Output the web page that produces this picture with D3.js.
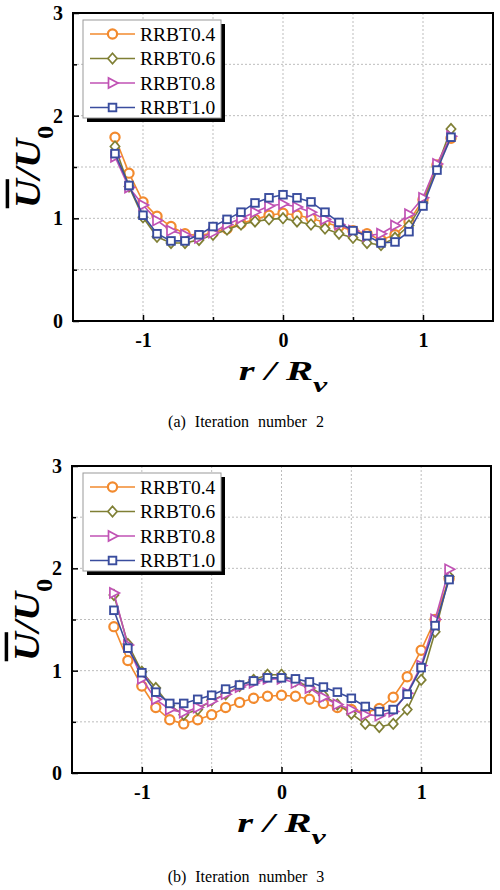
<!DOCTYPE html>
<html>
<head>
<meta charset="utf-8">
<script src="https://cdn.jsdelivr.net/npm/d3@7"></script>
<style>
  body { margin: 0; background: #fff; }
  svg { display: block; }
</style>
</head>
<body>
<div id="graph"></div>
<script>
// r / Rv sample positions
const radius = [-1.2, -1.1, -1.0, -0.9, -0.8, -0.7, -0.6, -0.5, -0.4, -0.3, -0.2, -0.1, 0,
                0.1, 0.2, 0.3, 0.4, 0.5, 0.6, 0.7, 0.8, 0.9, 1.0, 1.1, 1.2];

const seriesNames = ['RRBT0.4', 'RRBT0.6', 'RRBT0.8', 'RRBT1.0'];

// (a) iteration number 2
const iter2_04 = [1.79, 1.44, 1.16, 1.02, 0.92, 0.85, 0.83, 0.86, 0.90, 0.95, 0.99, 1.03, 1.05,
                  1.03, 1.00, 0.96, 0.92, 0.88, 0.85, 0.79, 0.84, 0.97, 1.18, 1.52, 1.78];
const iter2_06 = [1.70, 1.31, 1.01, 0.82, 0.76, 0.76, 0.79, 0.84, 0.89, 0.94, 0.97, 0.99, 1.00,
                  0.97, 0.94, 0.90, 0.85, 0.81, 0.76, 0.74, 0.81, 0.93, 1.15, 1.50, 1.87];
const iter2_08 = [1.60, 1.30, 1.13, 0.98, 0.88, 0.84, 0.81, 0.86, 0.94, 1.00, 1.06, 1.12, 1.14,
                  1.11, 1.06, 0.99, 0.94, 0.88, 0.83, 0.85, 0.93, 1.04, 1.20, 1.53, 1.80];
const iter2_10 = [1.63, 1.32, 1.03, 0.85, 0.78, 0.78, 0.84, 0.92, 0.99, 1.06, 1.15, 1.20, 1.23,
                  1.20, 1.16, 1.06, 0.96, 0.88, 0.83, 0.76, 0.77, 0.87, 1.12, 1.47, 1.79];

// (b) iteration number 3
const iter3_04 = [1.43, 1.10, 0.85, 0.64, 0.52, 0.48, 0.52, 0.57, 0.64, 0.69, 0.73, 0.75, 0.76,
                  0.75, 0.72, 0.68, 0.64, 0.62, 0.59, 0.63, 0.74, 0.94, 1.20, 1.50, 1.90];
const iter3_06 = [1.74, 1.26, 0.99, 0.83, 0.66, 0.57, 0.62, 0.71, 0.77, 0.85, 0.91, 0.96, 0.96,
                  0.90, 0.84, 0.76, 0.67, 0.58, 0.48, 0.45, 0.48, 0.62, 0.91, 1.38, 1.92];
const iter3_08 = [1.76, 1.25, 0.92, 0.72, 0.62, 0.59, 0.64, 0.70, 0.77, 0.84, 0.88, 0.92, 0.92,
                  0.88, 0.83, 0.74, 0.67, 0.62, 0.57, 0.56, 0.60, 0.78, 1.05, 1.50, 1.99];
const iter3_10 = [1.59, 1.22, 0.98, 0.79, 0.68, 0.68, 0.72, 0.76, 0.82, 0.86, 0.90, 0.93, 0.93,
                  0.92, 0.89, 0.84, 0.79, 0.73, 0.65, 0.60, 0.62, 0.77, 1.03, 1.44, 1.89];

const xTicks = [-1, 0, 1];
const yTicks = [0, 1, 2, 3];

const colors = ['#f28a2e', '#7f7f34', '#c052b4', '#3a4d9e'];
const shapes = ['circle', 'diamond', 'triangle', 'square'];

const serif = "'Liberation Serif', 'Times New Roman', serif";

let svg = d3.select('#graph')
    .append('svg')
    .attr('width', 500)
    .attr('height', 890);

function marker(g, shape, color, cx, cy) {
    if (shape === 'circle') {
        g.append('circle').attr('cx', cx).attr('cy', cy).attr('r', 4.6)
            .style('fill', '#fff').style('stroke', color).style('stroke-width', 2.2);
    } else if (shape === 'diamond') {
        g.append('path')
            .attr('d', `M${cx},${cy - 5.2}L${cx + 4.6},${cy}L${cx},${cy + 5.2}L${cx - 4.6},${cy}Z`)
            .style('fill', '#fff').style('stroke', color).style('stroke-width', 1.7);
    } else if (shape === 'triangle') {
        g.append('path')
            .attr('d', `M${cx + 5.5},${cy}L${cx - 4},${cy - 5}L${cx - 4},${cy + 5}Z`)
            .style('fill', '#fff').style('stroke', color).style('stroke-width', 1.7);
    } else {
        g.append('rect').attr('x', cx - 3.8).attr('y', cy - 3.8).attr('width', 7.6).attr('height', 7.6)
            .style('fill', '#fff').style('stroke', color).style('stroke-width', 1.9);
    }
}

function styleAxis(a) {
    a.select('.domain').remove();
    a.selectAll('line').style('stroke', '#000').style('stroke-width', 1.5);
    a.selectAll('text')
        .style('font-family', serif).style('font-weight', 'bold')
        .style('font-size', '20px').style('fill', '#000');
}

function drawPanel(left, top, width, height, series, legendPos, caption, captionY, labelY) {
    let g = svg.append('g').attr('transform', 'translate(' + left + ',' + top + ')');

    let x = d3.scaleLinear().domain([-1.5, 1.5]).range([0, width]);
    let y = d3.scaleLinear().domain([0, 3]).range([height, 0]);

    // dotted grid
    g.append('g').selectAll('line.gx')
        .data([-1, -0.5, 0, 0.5, 1])
        .enter().append('line')
        .attr('x1', d => x(d)).attr('x2', d => x(d))
        .attr('y1', 0).attr('y2', height)
        .style('stroke', '#b5b5b5').style('stroke-width', 0.9).style('stroke-dasharray', '2,2');
    g.append('g').selectAll('line.gy')
        .data([0.5, 1, 1.5, 2, 2.5])
        .enter().append('line')
        .attr('x1', 0).attr('x2', width)
        .attr('y1', d => y(d)).attr('y2', d => y(d))
        .style('stroke', '#b5b5b5').style('stroke-width', 0.9).style('stroke-dasharray', '2,2');

    // series
    series.forEach((vals, i) => {
        let pts = radius.map((r, k) => [r, vals[k]]);
        let line = d3.line().x(d => x(d[0])).y(d => y(d[1]));
        let sg = g.append('g');
        sg.append('path').datum(pts).attr('d', line)
            .style('fill', 'none').style('stroke', colors[i]).style('stroke-width', 1.6);
        pts.forEach(p => marker(sg, shapes[i], colors[i], x(p[0]), y(p[1])));
    });

    // axes, ticks inward
    let fmt = d => d < 0 ? '-' + Math.abs(d) : String(d);
    let xMajor = d3.axisBottom(x).tickValues(xTicks).tickSize(-6).tickPadding(12).tickFormat(fmt);
    let xMinor = d3.axisBottom(x).tickValues([-0.5, 0.5]).tickSize(-4).tickFormat('');
    let yMajor = d3.axisLeft(y).tickValues(yTicks).tickSize(-6).tickPadding(10).tickFormat(fmt);
    let yMinor = d3.axisLeft(y).tickValues([0.5, 1.5, 2.5]).tickSize(-4).tickFormat('');

    styleAxis(g.append('g').attr('transform', 'translate(0,' + height + ')').call(xMajor));
    styleAxis(g.append('g').attr('transform', 'translate(0,' + height + ')').call(xMinor));
    styleAxis(g.append('g').call(yMajor));
    styleAxis(g.append('g').call(yMinor));

    g.append('rect')
        .attr('x', 0).attr('y', 0).attr('width', width).attr('height', height)
        .style('fill', 'none').style('stroke', '#000').style('stroke-width', 2);

    // legend
    let lg = g.append('g').attr('transform', 'translate(' + legendPos[0] + ',' + legendPos[1] + ')');
    lg.append('rect').attr('x', 4).attr('y', 4).attr('width', 138).attr('height', 98).style('fill', '#000');
    lg.append('rect').attr('x', 0).attr('y', 0).attr('width', 138).attr('height', 98)
        .style('fill', '#fff').style('stroke', '#999').style('stroke-width', 1);
    seriesNames.forEach((name, i) => {
        let cy = 14 + i * 24.5;
        lg.append('line').attr('x1', 7).attr('x2', 52).attr('y1', cy).attr('y2', cy)
            .style('stroke', colors[i]).style('stroke-width', 1.6);
        marker(lg, shapes[i], colors[i], 29.5, cy);
        lg.append('text').attr('x', 57).attr('y', cy + 6.5)
            .style('font-family', serif).style('font-size', '19.5px').style('fill', '#000')
            .text(name);
    });

    // y label  U-bar / U0
    let yl = svg.append('text')
        .attr('transform', 'translate(' + (left - 33) + ',' + labelY + ') rotate(-90) scale(1.15,1)')
        .attr('text-anchor', 'middle')
        .style('font-family', serif).style('font-weight', 'bold').style('font-style', 'italic')
        .style('font-size', '35px').style('fill', '#000');
    yl.append('tspan').style('text-decoration', 'overline').text('U');
    yl.append('tspan').text('/U');
    yl.append('tspan').attr('baseline-shift', 'sub').style('font-size', '23px').style('font-style', 'normal').text('0');

    // x label  r / Rv
    let xl = svg.append('text')
        .attr('transform', 'translate(' + (left + x(0)) + ',' + (top + height + 59) + ') scale(1.45,1)')
        .attr('text-anchor', 'middle')
        .style('font-family', serif).style('font-weight', 'bold').style('font-style', 'italic')
        .style('font-size', '28px').style('fill', '#000');
    xl.append('tspan').text('r / R');
    xl.append('tspan').attr('baseline-shift', 'sub').style('font-size', '22px').text('v');

    svg.append('text')
        .attr('x', 246).attr('y', captionY)
        .attr('text-anchor', 'middle')
        .style('font-family', serif).style('font-size', '16px').style('word-spacing', '5px')
        .style('fill', '#000')
        .text(caption);
}

drawPanel(73, 13, 420, 308, [iter2_04, iter2_06, iter2_08, iter2_10], [10, 7],
    '(a) Iteration number 2', 427, 167);
drawPanel(72, 466, 419, 307, [iter3_04, iter3_06, iter3_08, iter3_10], [11, 7],
    '(b) Iteration number 3', 882, 620);
</script>
</body>
</html>
